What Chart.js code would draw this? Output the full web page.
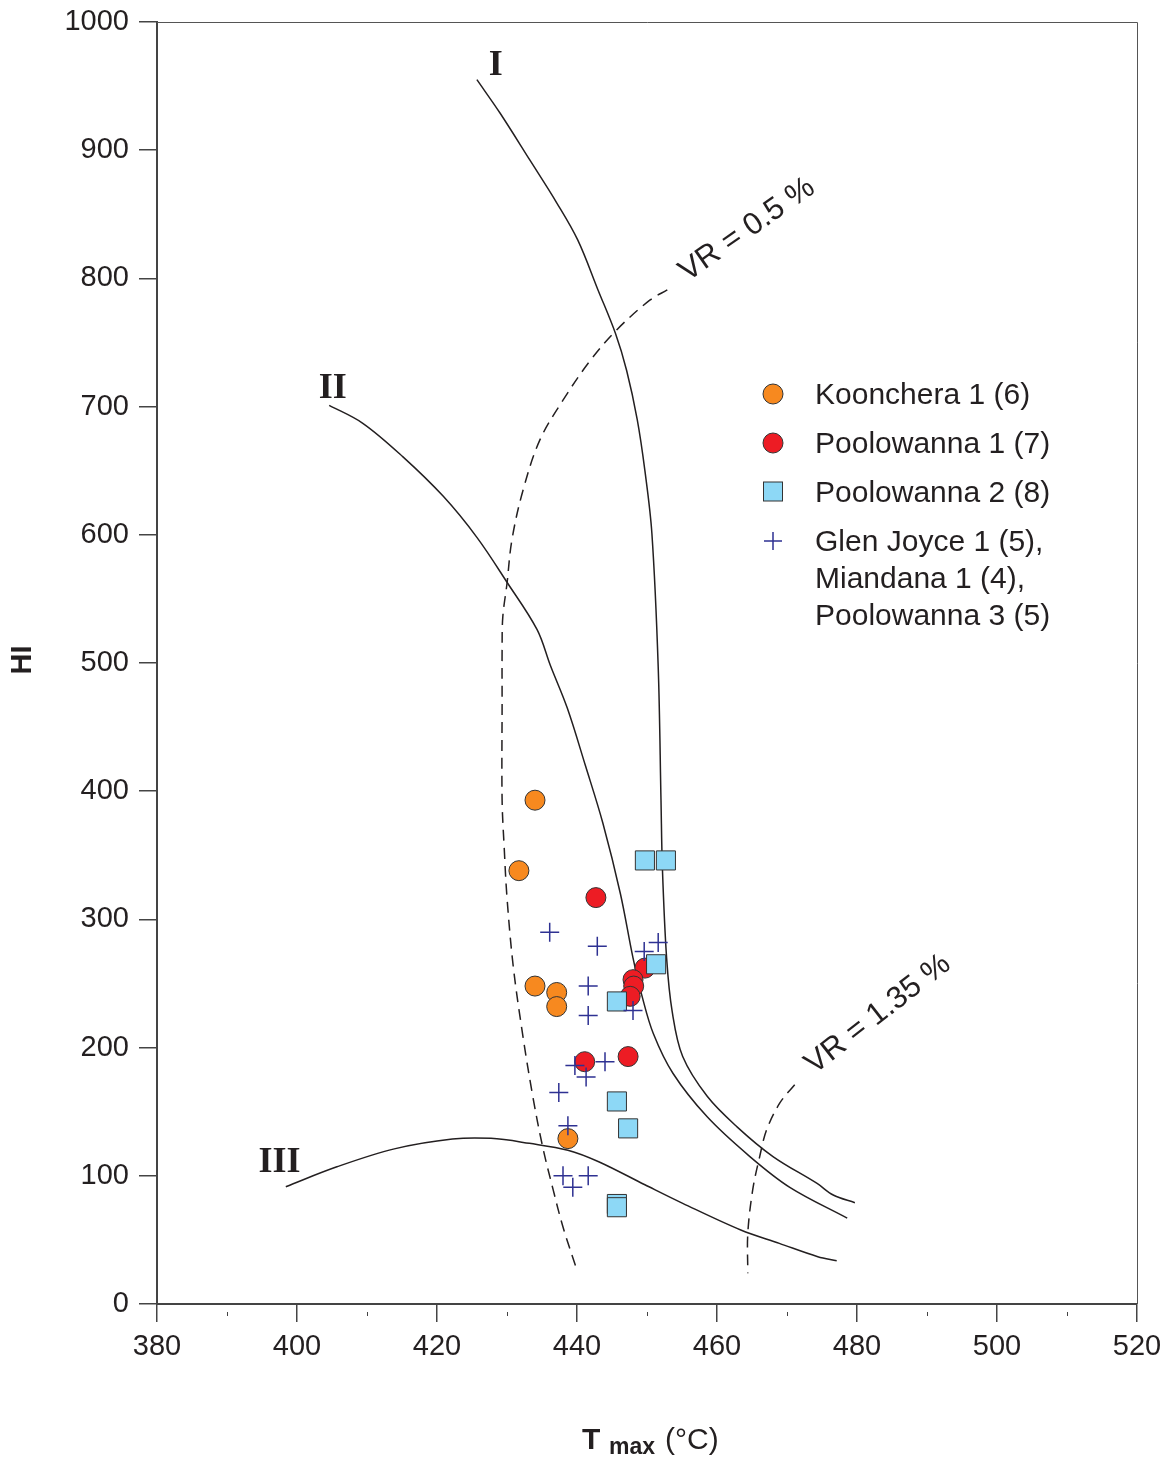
<!DOCTYPE html>
<html>
<head>
<meta charset="utf-8">
<script src="https://cdn.jsdelivr.net/npm/chart.js@4.4.1/dist/chart.umd.min.js"></script>
<style>
  body { margin: 0; background: #fff; }
  #wrap { width: 1164px; height: 1458px; }
</style>
</head>
<body>
<div id="wrap"><canvas id="hiChart"></canvas></div>
<script>
// samples, [Tmax, HI]
var koonchera1 = [[434.0, 393], [431.7, 338], [434.0, 248], [437.1, 243], [437.1, 232], [438.7, 129]];
var poolowanna1 = [[442.7, 317], [441.1, 189], [447.3, 193], [449.7, 262], [448.0, 253], [448.1, 248], [447.6, 240]];
var poolowanna2 = [[449.7, 346], [452.7, 346], [451.3, 265], [445.7, 236], [445.7, 158], [447.3, 137], [445.7, 78], [445.7, 75.5]];
var crossWells = [[436.1, 290], [442.9, 279], [451.6, 282], [449.6, 275], [441.6, 248], [441.6, 225], [448.0, 229],
                  [439.7, 186], [444.0, 189], [441.3, 177], [437.4, 165], [438.7, 139], [438.0, 100], [441.6, 100], [439.4, 91]];

// kerogen type boundaries
var typeI = [[425.7, 955], [429.0, 929], [433.3, 892], [437.1, 859], [440.1, 830], [443.0, 791], [445.5, 757],
             [447.1, 728], [448.6, 690], [449.7, 650], [450.7, 601], [451.6, 497], [452.0, 393], [452.2, 340],
             [452.8, 270], [453.6, 228], [455.1, 193], [458.6, 162], [462.9, 138], [468.0, 115], [474.3, 94], [476.6, 85], [479.7, 79]];
var typeII = [[404.6, 701], [409.4, 687], [415.1, 661], [420.9, 630], [425.7, 598], [430.0, 563], [434.3, 526],
              [436.2, 498], [438.6, 465], [441.2, 420], [443.7, 375], [446.2, 320], [448.0, 270], [449.3, 240], [450.9, 211], [453.7, 180],
              [458.6, 146], [464.7, 115], [470.4, 91], [478.6, 67]];
var typeIII = [[398.4, 91.5], [405.7, 107], [413.9, 121], [422.2, 128.7], [427.7, 129.2], [433.2, 125.3], [438.7, 120], [443.1, 111],
               [449.7, 93], [455.1, 78.5], [463.4, 57.7], [468.9, 47.3], [474.4, 36.9], [477.1, 33.8]];
// vitrinite reflectance iso-lines
var vr05 = [[452.9, 791], [450.4, 783], [445.7, 760], [441.9, 736], [438.0, 705], [434.7, 674], [432.3, 635], [430.7, 596],
            [430.0, 562], [429.4, 536], [429.3, 510], [429.3, 471], [429.3, 393], [429.6, 356], [430.0, 317], [430.9, 263],
            [432.3, 208], [433.7, 161.5], [435.1, 122.5], [436.6, 89], [438.0, 60], [439.9, 28]];
var vr135 = [[471.1, 171], [469.0, 157], [467.1, 136], [466.1, 115], [465.1, 89], [464.4, 55], [464.4, 24]];

var legendLabels = ['Koonchera 1 (6)', 'Poolowanna 1 (7)', 'Poolowanna 2 (8)',
                    ['Glen Joyce 1 (5),', 'Miandana 1 (4),', 'Poolowanna 3 (5)']];
var xTicks = [380, 400, 420, 440, 460, 480, 500, 520];

function pts(arr) {
  return arr.map(function (p) { return { x: p[0], y: p[1] }; });
}

var lineCol = '#231f20';
var orange = '#f7891f', red = '#ed1c24', lightBlue = '#8dd8f6', navy = '#2e3192';
var sans = '"Liberation Sans", Arial, sans-serif';

function curve(data, dashed) {
  return {
    data: pts(data), showLine: true, pointRadius: 0, borderColor: lineCol, borderWidth: 1.5,
    borderDash: dashed ? [11, 7] : [], tension: 0.35, fill: false, order: 10
  };
}

var decorPlugin = {
  id: 'decor',
  beforeDatasetsDraw: function (chart) {
    var ctx = chart.ctx, a = chart.chartArea, xs = chart.scales.x;
    ctx.save();
    // frame on top/right
    ctx.strokeStyle = '#555';
    ctx.lineWidth = 1;
    ctx.beginPath();
    ctx.moveTo(a.left, a.top + 0.5); ctx.lineTo(a.right + 0.5, a.top + 0.5); ctx.lineTo(a.right + 0.5, a.bottom);
    ctx.stroke();
    // minor x ticks
    ctx.strokeStyle = '#444';
    for (var v = 390; v < 520; v += 20) {
      var px = Math.round(xs.getPixelForValue(v)) + 0.5;
      ctx.beginPath(); ctx.moveTo(px, a.bottom + 8); ctx.lineTo(px, a.bottom + 12); ctx.stroke();
    }
    ctx.restore();
  },
  afterDraw: function (chart) {
    var ctx = chart.ctx, xs = chart.scales.x, ys = chart.scales.y;
    function X(v) { return xs.getPixelForValue(v); }
    function Y(v) { return ys.getPixelForValue(v); }
    ctx.save();
    ctx.fillStyle = lineCol;
    // curve labels
    ctx.font = 'bold 36px "Liberation Serif", "Times New Roman", serif';
    ctx.textAlign = 'center'; ctx.textBaseline = 'middle';
    ctx.fillText('I', X(428.4), Y(966));
    ctx.fillText('II', X(405.1), Y(714));
    ctx.fillText('III', X(397.5), Y(110));
    // VR labels
    ctx.font = '31px ' + sans;
    ctx.save();
    ctx.translate(X(464.3), Y(838)); ctx.rotate(-35 * Math.PI / 180);
    ctx.fillText('VR = 0.5 %', 0, 0);
    ctx.restore();
    ctx.save();
    ctx.translate(X(483.0), Y(226)); ctx.rotate(-38 * Math.PI / 180);
    ctx.fillText('VR = 1.35 %', 0, 0);
    ctx.restore();

    // legend
    var lx = 773, tx = 815;
    var rows = [396, 445, 494, 543];
    ctx.lineWidth = 1;
    ctx.strokeStyle = '#333';
    ctx.beginPath(); ctx.arc(lx, rows[0] - 2, 10, 0, Math.PI * 2); ctx.fillStyle = orange; ctx.fill(); ctx.stroke();
    ctx.beginPath(); ctx.arc(lx, rows[1] - 2, 10, 0, Math.PI * 2); ctx.fillStyle = red; ctx.fill(); ctx.stroke();
    ctx.fillStyle = lightBlue; ctx.fillRect(lx - 9.5, rows[2] - 12, 19, 19);
    ctx.strokeRect(lx - 9.5, rows[2] - 12, 19, 19);
    ctx.strokeStyle = navy; ctx.lineWidth = 1.5;
    ctx.beginPath(); ctx.moveTo(lx - 9, rows[3] - 2); ctx.lineTo(lx + 9, rows[3] - 2);
    ctx.moveTo(lx, rows[3] - 11); ctx.lineTo(lx, rows[3] + 7); ctx.stroke();
    ctx.fillStyle = lineCol;
    ctx.font = '30px ' + sans;
    ctx.textAlign = 'left'; ctx.textBaseline = 'middle';
    ctx.fillText(legendLabels[0], tx, rows[0]);
    ctx.fillText(legendLabels[1], tx, rows[1]);
    ctx.fillText(legendLabels[2], tx, rows[2]);
    for (var i = 0; i < legendLabels[3].length; i++) {
      ctx.fillText(legendLabels[3][i], tx, rows[3] + i * 37);
    }

    // axis titles
    ctx.save();
    ctx.font = 'bold 29px ' + sans;
    ctx.translate(23, 660); ctx.rotate(-Math.PI / 2);
    ctx.textAlign = 'center'; ctx.textBaseline = 'middle';
    ctx.fillText('HI', 0, 0);
    ctx.restore();
    ctx.textAlign = 'left'; ctx.textBaseline = 'alphabetic';
    ctx.font = 'bold 30px ' + sans;
    ctx.fillText('T', 582, 1449);
    ctx.font = 'bold 23px ' + sans;
    ctx.fillText('max', 609, 1454);
    ctx.font = '30px ' + sans;
    ctx.fillText('(\u00b0C)', 665, 1449);
    ctx.restore();
  }
};

new Chart(document.getElementById('hiChart'), {
  type: 'scatter',
  data: {
    datasets: [
      { label: 'Glen Joyce 1, Miandana 1, Poolowanna 3', data: pts(crossWells), pointStyle: 'cross', pointRadius: 9.5,
        borderColor: navy, borderWidth: 1.5, order: 0 },
      { label: 'Poolowanna 2', data: pts(poolowanna2), pointStyle: 'rect', pointRadius: 13.5,
        backgroundColor: lightBlue, borderColor: '#333', borderWidth: 1, order: 1 },
      { label: 'Poolowanna 1', data: pts(poolowanna1), pointStyle: 'circle', pointRadius: 10,
        backgroundColor: red, borderColor: '#333', borderWidth: 1, order: 2 },
      { label: 'Koonchera 1', data: pts(koonchera1), pointStyle: 'circle', pointRadius: 10,
        backgroundColor: orange, borderColor: '#333', borderWidth: 1, order: 3 },
      curve(typeI, false),
      curve(typeII, false),
      curve(typeIII, false),
      curve(vr05, true),
      curve(vr135, true)
    ]
  },
  options: {
    responsive: true,
    maintainAspectRatio: false,
    animation: false,
    layout: { padding: { top: 22, right: 27, left: 0, bottom: 0 } },
    plugins: { legend: { display: false }, tooltip: { enabled: false } },
    scales: {
      x: {
        type: 'linear', min: 380, max: 520,
        afterBuildTicks: function (s) { s.ticks = xTicks.map(function (v) { return { value: v }; }); },
        afterFit: function (s) { s.height = 154; s.paddingLeft = 0; s.paddingRight = 0; },
        ticks: { color: lineCol, padding: 8, font: { family: sans, size: 29 },
                 callback: function (v) { return String(v); } },
        grid: { drawOnChartArea: false, drawTicks: true, tickLength: 18, color: '#444', lineWidth: 1.5 },
        border: { display: true, color: '#444', width: 2 }
      },
      y: {
        type: 'linear', min: 0, max: 1000,
        ticks: { stepSize: 100, color: lineCol, padding: 10, font: { family: sans, size: 29 },
                 callback: function (v) { return String(v); } },
        afterFit: function (s) { s.width = 157; s.paddingTop = 0; s.paddingBottom = 0; },
        grid: { drawOnChartArea: false, drawTicks: true, tickLength: 18, color: '#444', lineWidth: 1.5 },
        border: { display: true, color: '#444', width: 2 }
      }
    }
  },
  plugins: [decorPlugin]
});
</script>
</body>
</html>
